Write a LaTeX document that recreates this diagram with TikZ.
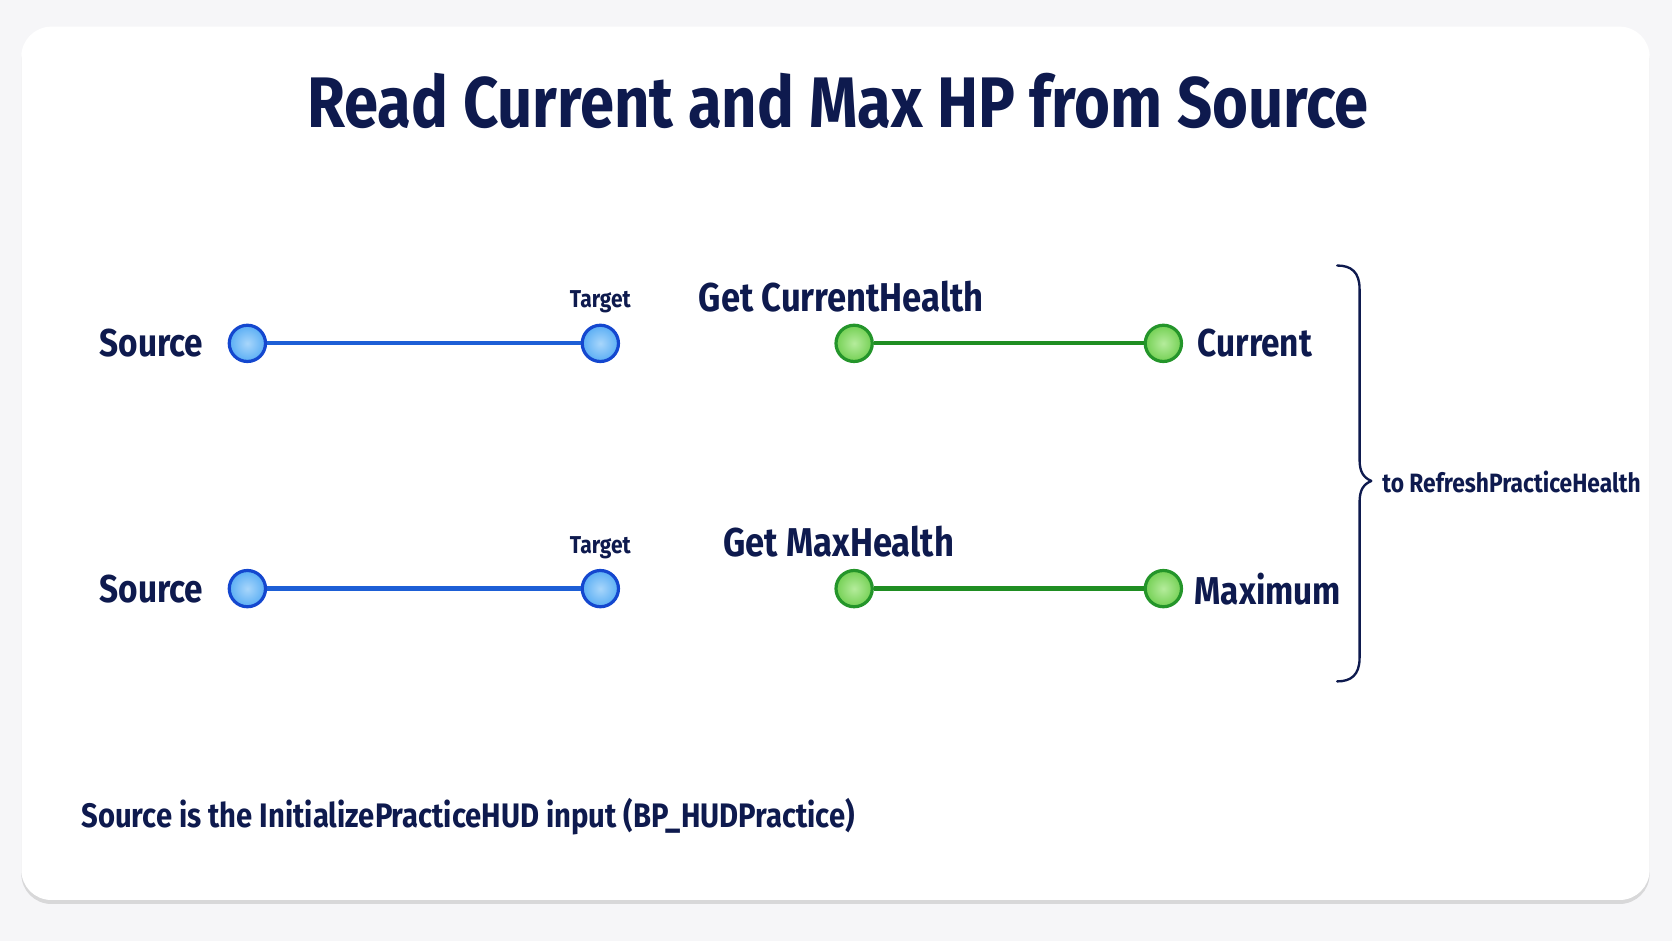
\documentclass[tikz,border=0pt]{standalone}
\usepackage{fontspec}
\setmainfont{Fira Sans}[FakeStretch=0.86]
\usetikzlibrary{shadows}
\definecolor{navy}{HTML}{0E1A4E}
\definecolor{bluefill}{HTML}{5AAEF4}
\definecolor{bluelight}{HTML}{A8D6FB}
\definecolor{blueedge}{HTML}{1447CF}
\definecolor{blueline}{HTML}{1D5FD6}
\definecolor{greenfill}{HTML}{74D054}
\definecolor{greenlight}{HTML}{B5EC9C}
\definecolor{greenedge}{HTML}{24952A}
\definecolor{greenline}{HTML}{1F8E22}
\definecolor{pagebg}{HTML}{F6F6F8}
\newcommand{\unitpx}{*0.5332pt}
\tikzset{
  lbl/.style={text=navy,inner sep=0pt},
  bluepin/.style={circle,minimum size=34\unitpx,inner sep=0pt,draw=blueedge,line width=3\unitpx,
    inner color=bluelight,outer color=bluefill},
  greenpin/.style={circle,minimum size=34\unitpx,inner sep=0pt,draw=greenedge,line width=3\unitpx,
    inner color=greenlight,outer color=greenfill},
  bluewire/.style={draw=blueline,line width=4\unitpx},
  greenwire/.style={draw=greenline,line width=4\unitpx},
  bigl/.style={lbl,font=\bfseries\fontsize{19.4}{22}\selectfont,anchor=west},
  getl/.style={lbl,font=\bfseries\fontsize{20.1}{22}\selectfont,anchor=west},
  tgtl/.style={lbl,font=\bfseries\fontsize{12.2}{14}\selectfont},
}
\begin{document}
\begin{tikzpicture}[x=0.5332pt,y=-0.5332pt]
\useasboundingbox (0,0) rectangle (1568,882);
\fill[pagebg] (0,0) rectangle (1568,882);
\fill[white,rounded corners=15pt,
  drop shadow={shadow xshift=0pt,shadow yshift=-2pt,opacity=0.12,fill=black}] (20,25) rectangle (1547,844);
\node[lbl,font=\bfseries\fontsize{35.8}{40}\selectfont] (title) at (786,95) {Read Current and Max HP from Source};
% row 1
\node[bigl] (src1) at (93,322) {Source};
\node[bluepin] (s1) at (232,322) {};
\node[bluepin] (t1) at (563,322) {};
\draw[bluewire] (s1) -- (t1);
\node[tgtl] (tl1) at (563,283) {Target};
\node[getl] (get1) at (655,278) {Get CurrentHealth};
\node[greenpin] (g1a) at (801,322) {};
\node[greenpin] (g1b) at (1091,322) {};
\draw[greenwire] (g1a) -- (g1b);
\node[bigl] (cur) at (1123,322) {Current};
% row 2
\node[bigl] (src2) at (93,552) {Source};
\node[bluepin] (s2) at (232,552) {};
\node[bluepin] (t2) at (563,552) {};
\draw[bluewire] (s2) -- (t2);
\node[tgtl] (tl2) at (563,514) {Target};
\node[getl] (get2) at (678,508) {Get MaxHealth};
\node[greenpin] (g2a) at (801,552) {};
\node[greenpin] (g2b) at (1091,552) {};
\draw[greenwire] (g2a) -- (g2b);
\node[bigl] (max) at (1120,552) {Maximum};
% brace
\coordinate (btop) at (1254,249);
\coordinate (btip) at (1286,451);
\coordinate (bbot) at (1254,639);
\draw[navy,line width=2.2\unitpx,line cap=round,line join=round]
  (btop) .. controls (1267,249) and (1275,255) .. (1275,271)
  -- (1275,431) .. controls (1275,443) and (1279,448) .. (btip)
  .. controls (1279,454) and (1275,459) .. (1275,471)
  -- (1275,617) .. controls (1275,633) and (1267,639) .. (bbot);
\node[lbl,font=\bfseries\fontsize{13.25}{15}\selectfont,anchor=west] (refresh) at (1296,452) {to RefreshPracticeHealth};
% footer
\node[lbl,font=\bfseries\fontsize{17}{19}\selectfont,anchor=west] (foot) at (76,766) {Source is the InitializePracticeHUD input (BP\_HUDPractice)};
\end{tikzpicture}
\end{document}
